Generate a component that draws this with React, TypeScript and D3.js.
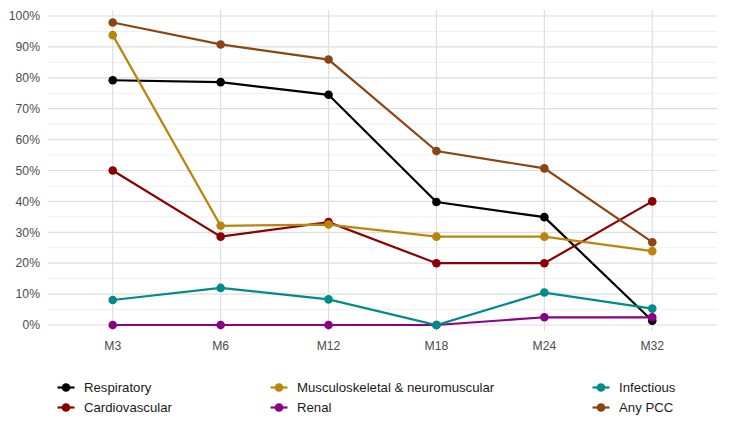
import React from "react";
import * as d3 from "d3";

const categories = ["M3", "M6", "M12", "M18", "M24", "M32"];
const seriesNames = ["Respiratory", "Cardiovascular", "Musculoskeletal & neuromuscular", "Renal", "Infectious", "Any PCC"];
const respiratory = [79.2, 78.6, 74.5, 39.8, 34.9, 1.4];
const cardiovascular = [50.0, 28.6, 33.3, 20.0, 20.0, 40.0];
const musculoskeletal = [93.8, 32.1, 32.5, 28.6, 28.6, 23.9];
const renal = [0, 0, 0, 0, 2.5, 2.5];
const infectious = [8.1, 12.0, 8.3, 0, 10.5, 5.3];
const anyPCC = [97.9, 90.8, 85.9, 56.3, 50.7, 26.8];
const colors = ["#000000", "#8B0000", "#B8860B", "#8B008B", "#008B8B", "#8B4513"];
const yTicks = [0, 10, 20, 30, 40, 50, 60, 70, 80, 90, 100];
const yMinor = [5, 15, 25, 35, 45, 55, 65, 75, 85, 95];

const seriesValues = [respiratory, cardiovascular, musculoskeletal, renal, infectious, anyPCC];

export default function App() {
  const W = 730, H = 425;
  const left = 48, right = 717, top = 16, bottom = 325;
  const panelTop = 10, panelBottom = 331;
  const x = d3.scalePoint<string>().domain(categories).range([left, right]).padding(0.6);
  const y = d3.scaleLinear().domain([0, 100]).range([bottom, top]);
  const line = d3.line<number>().x((_, i) => x(categories[i])!).y((v) => y(v));
  const font = "Liberation Sans, Arial, sans-serif";
  const legendOrder = [0, 2, 4, 1, 3, 5];
  const colX = [66, 279, 601];
  const rowY = [387.5, 407.5];
  return (
    <svg width={W} height={H} style={{ position: "absolute", left: 0, top: 0, background: "#fff" }} fontFamily={font}>
      {yMinor.map((t) => (
        <line key={"mn" + t} x1={left} x2={right} y1={y(t)} y2={y(t)} stroke="#f0f0f0" strokeWidth={1} />
      ))}
      {yTicks.map((t) => (
        <line key={"mj" + t} x1={left} x2={right} y1={y(t)} y2={y(t)} stroke="#dedede" strokeWidth={1.2} />
      ))}
      {categories.map((c) => (
        <line key={"v" + c} x1={x(c)} x2={x(c)} y1={panelTop} y2={panelBottom} stroke="#dedede" strokeWidth={1.2} />
      ))}
      {yTicks.map((t) => (
        <text key={"yl" + t} x={40} y={y(t)} dy="0.35em" textAnchor="end" fontSize={12.2} fill="#4d4d4d">
          {t + "%"}
        </text>
      ))}
      {categories.map((c) => (
        <text key={"xl" + c} x={x(c)} y={349.5} textAnchor="middle" fontSize={12.2} fill="#4d4d4d">
          {c}
        </text>
      ))}
      {seriesValues.map((vals, si) => (
        <g key={"s" + si}>
          <path d={line(vals)!} fill="none" stroke={colors[si]} strokeWidth={2.2} />
          {vals.map((v, i) => (
            <circle key={i} cx={x(categories[i])} cy={y(v)} r={4.3} fill={colors[si]} />
          ))}
        </g>
      ))}
      {legendOrder.map((si, k) => {
        const cx = colX[k % 3];
        const cy = rowY[Math.floor(k / 3)];
        return (
          <g key={"lg" + si}>
            <line x1={cx - 8.5} x2={cx + 8.5} y1={cy} y2={cy} stroke={colors[si]} strokeWidth={2.2} />
            <circle cx={cx} cy={cy} r={4.3} fill={colors[si]} />
            <text x={cx + 18} y={cy} dy="0.35em" fontSize={13.2} fill="#1a1a1a">
              {seriesNames[si]}
            </text>
          </g>
        );
      })}
    </svg>
  );
}
